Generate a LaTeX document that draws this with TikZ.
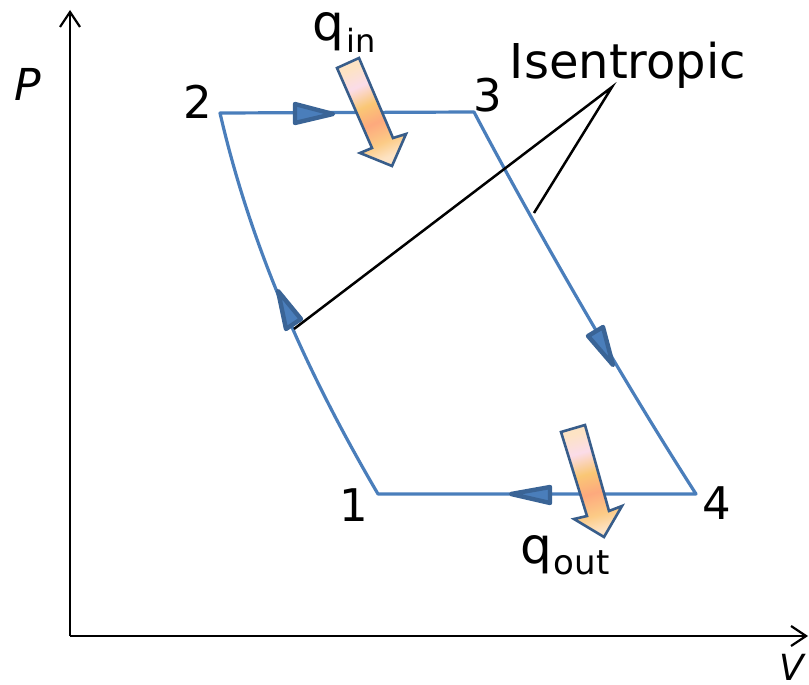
\documentclass[tikz,border=0pt]{standalone}
\usepackage{fontspec}
\setmainfont{DejaVu Sans}
\usetikzlibrary{arrows.meta}
\definecolor{cyc}{HTML}{4A7EBB}
\definecolor{tridark}{HTML}{3A6496}
\definecolor{trifill}{HTML}{4A7EBB}
\definecolor{fatedge}{HTML}{385D8A}
\definecolor{qa}{HTML}{FBDCE8}
\definecolor{qb}{HTML}{FAC775}
\definecolor{qc}{HTML}{FDA97D}
\definecolor{qd}{HTML}{FCCB86}
\definecolor{qe}{HTML}{FDE3C4}
\definecolor{qf}{HTML}{FDE3C4}
\pgfdeclareverticalshading{qshade}{100bp}{
 color(0bp)=(qe);color(25bp)=(qe);color(33bp)=(qd);color(44bp)=(qc);color(54bp)=(qb);color(65bp)=(qa);color(75bp)=(qf);color(100bp)=(qf)}
\tikzset{
 x=1pt,y=-1pt,
 cycleline/.style={draw=cyc,line width=3.2pt,line join=round},
 tri/.style={draw=tridark,fill=trifill,line width=4.4pt,line join=round},
 fat/.style={draw=fatedge,line width=2.6pt,line join=miter,shading=qshade},
 axis/.style={draw=black,line width=2.2pt,-{Straight Barb[length=15pt,width=20pt,line width=2.2pt]}},
 lead/.style={draw=black,line width=2.5pt},
 lab/.style={inner sep=0pt,anchor=base,text=black,font=\fontsize{45}{50}\selectfont}
}
\begin{document}
\begin{tikzpicture}
\useasboundingbox (0,0) rectangle (809,685);
\coordinate (O) at (70,636);
\coordinate (Ptop) at (70,10);
\coordinate (Vend) at (808,636);
\coordinate (c1) at (378,494);
\coordinate (c2) at (220,113);
\coordinate (c3) at (474,112);
\coordinate (c4) at (696,494);
\coordinate (hub) at (612,87);
\coordinate (l1) at (294,329);
\coordinate (l2) at (534,213);
\draw[axis] (O) -- (Ptop);
\draw[axis] (O) -- (Vend);
\draw[cycleline] (c1) .. controls (303,366) and (250,243) .. (c2) -- (c3) .. controls (524,207) and (615,368) .. (c4) -- cycle;
\draw[tri] (295,104) -- (295,123) -- (333,114) -- cycle;
\draw[tri] (603,327) -- (588,336) -- (613,365) -- cycle;
\draw[tri] (511,494) -- (550,487) -- (550,503) -- cycle;
\draw[tri] (278,291) -- (286,329) -- (301,319) -- cycle;
\draw[lead] (l1) -- (hub) -- (l2);
\path[fat,shading angle=24] (337,68) -- (359,58) -- (393,138) -- (406,134) -- (392,166) -- (360,153) -- (372,148) -- cycle;
\path[fat,shading angle=16] (561,432) -- (585,425) -- (609,511) -- (622,506) -- (604,537) -- (574,519) -- (587,516) -- cycle;
\node[lab] (n1) at (354,521) {1};
\node[lab] (n2) at (198,118) {2};
\node[lab] (n3) at (488,111) {3};
\node[lab] (n4) at (717,519) {4};
\node[lab,font=\fontsize{48}{52}\selectfont] (iso) at (628,79) {Isentropic};
\node[lab,anchor=base west,font=\fontsize{50}{54}\selectfont] (qin) at (312,41) {q\kern3pt\raisebox{-12pt}{\fontsize{32}{36}\selectfont in}};
\node[lab,anchor=base west,font=\fontsize{50}{54}\selectfont] (qout) at (520,563) {q\kern2pt\raisebox{-11pt}{\fontsize{34}{36}\selectfont out}};
\node[lab,font=\fontsize{44}{48}\selectfont\itshape] (P) at (28,100) {P};
\node[lab,font=\fontsize{36}{40}\selectfont\itshape] (V) at (792,680) {V};
\end{tikzpicture}
\end{document}
